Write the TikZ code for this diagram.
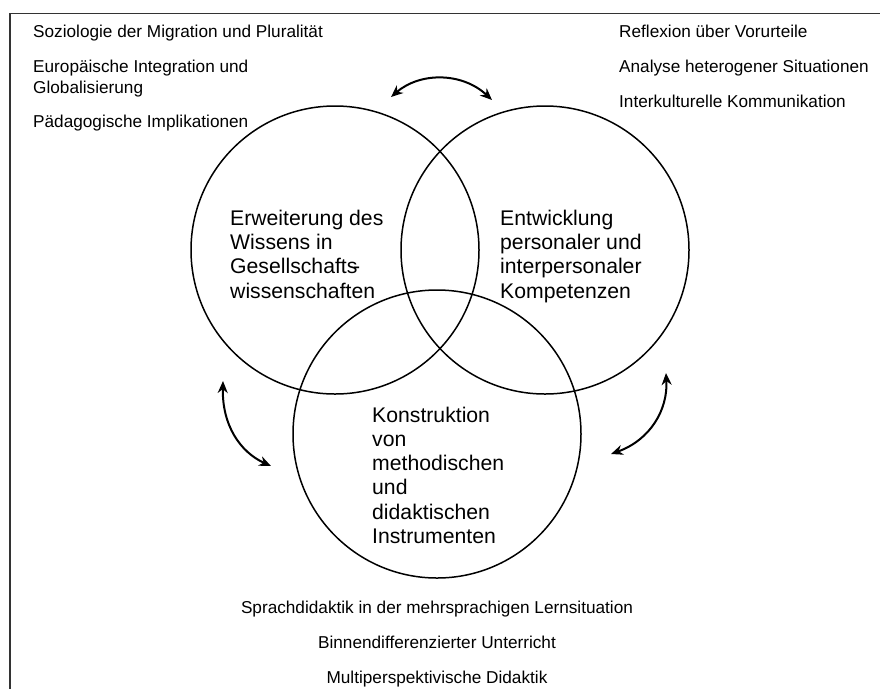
\documentclass[tikz,border=0pt]{standalone}
\usepackage{fontspec}
\setmainfont{Liberation Sans}
\usetikzlibrary{arrows.meta}
\begin{document}
\begin{tikzpicture}[x=1pt,y=-1pt,
  circ/.style={circle,draw=black,line width=1.5pt,minimum size=288pt,inner sep=0pt},
  small/.style={font=\fontsize{17.2}{21}\selectfont,inner sep=0pt},
  big/.style={font=\fontsize{21.2}{24.3}\selectfont,inner sep=0pt,align=left},
  dbl/.style={line width=2pt,{Stealth[length=12pt,width=10pt]}-{Stealth[length=12pt,width=10pt]}},
  frameline/.style={draw=black!80,line width=1.2pt}]
\useasboundingbox (0,0) rectangle (880,689);
% frame
\coordinate (ftl) at (10,13.5);
\coordinate (ftr) at (880,13.5);
\coordinate (fbl) at (10,689);
\draw[frameline] (ftr) -- (ftl) -- (fbl);
% circles
\node[circ] (cl) at (335,250) {};
\node[circ] (cr) at (545,250) {};
\node[circ] (cb) at (437,434) {};
% circle labels (anchor = baseline of last line)
\node[big,anchor=base west] (ll) at (230,298) {Erweiterung des\\Wissens in\\Gesellschafts\kern-0.2em-\\wissenschaften};
\node[big,anchor=base west] (lr) at (500,298) {Entwicklung\\personaler und\\interpersonaler\\Kompetenzen};
\node[big,anchor=base west] (lb) at (372,543.5) {Konstruktion\\von\\methodischen\\und\\didaktischen\\Instrumenten};
% top-left texts
\node[small,anchor=base west] (s1) at (33,37) {Soziologie der Migration und Pluralität};
\node[small,anchor=base west,align=left] (s2) at (33,93) {Europäische Integration und\\Globalisierung};
\node[small,anchor=base west] (s3) at (33,127) {Pädagogische Implikationen};
% top-right texts
\node[small,anchor=base west] (r1) at (619,37) {Reflexion über Vorurteile};
\node[small,anchor=base west] (r2) at (619,72) {Analyse heterogener Situationen};
\node[small,anchor=base west] (r3) at (619,107) {Interkulturelle Kommunikation};
% bottom texts
\node[small,anchor=base] (b1) at (437,613) {Sprachdidaktik in der mehrsprachigen Lernsituation};
\node[small,anchor=base] (b2) at (437,648) {Binnendifferenzierter Unterricht};
\node[small,anchor=base] (b3) at (437,683) {Multiperspektivische Didaktik};
% arrows
\coordinate (t1) at (391,97);
\coordinate (t2) at (492,100);
\draw[dbl] (t1) .. controls (420,72) and (462,72) .. (t2);
\coordinate (l1) at (223,381);
\coordinate (l2) at (271,466);
\draw[dbl] (l1) .. controls (222,425) and (240,452) .. (l2);
\coordinate (r1a) at (666,373);
\coordinate (r2a) at (611,454);
\draw[dbl] (r1a) .. controls (668,410) and (650,440) .. (r2a);
\end{tikzpicture}
\end{document}
